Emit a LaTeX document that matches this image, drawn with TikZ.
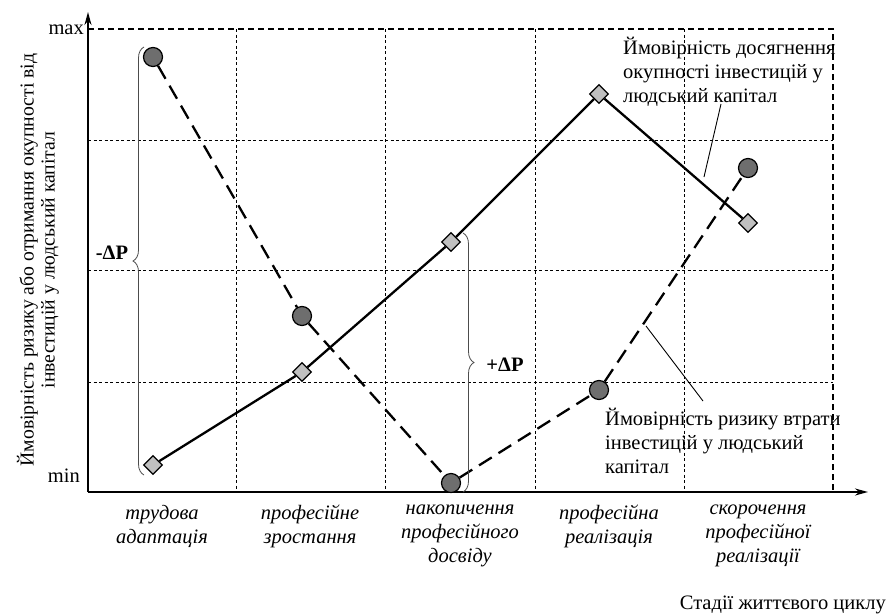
\documentclass[tikz,border=0pt]{standalone}
\usepackage{fontspec}
\setmainfont{Liberation Serif}
\usetikzlibrary{decorations.pathreplacing,arrows.meta,shapes.geometric}
\definecolor{dotdark}{RGB}{110,110,110}
\definecolor{dotlight}{RGB}{192,192,192}
\begin{document}
\begin{tikzpicture}[x=1pt,y=-1pt,
  gridline/.style={dash pattern=on 3pt off 2.5pt, line width=0.9pt},
  frameline/.style={dash pattern=on 6pt off 4pt, line width=1.1pt},
  axisline/.style={line width=1.8pt, -{Stealth[length=13pt,width=7pt]}},
  riskline/.style={dash pattern=on 15pt off 8pt, line width=2.3pt},
  gainline/.style={line width=2.3pt},
  riskpt/.style={circle, draw, fill=dotdark, minimum size=19pt, inner sep=0pt, line width=1.2pt},
  gainpt/.style={diamond, draw, fill=dotlight, minimum size=19pt, inner sep=0pt, line width=1.2pt},
  bracestyle/.style={decorate, decoration={brace, amplitude=11pt}, line width=0.8pt, draw=black!70},
  txt/.style={font=\fontsize{20.5}{24}\selectfont, inner sep=0pt},
  stage/.style={font=\fontsize{20.5}{24}\selectfont\itshape, align=center, anchor=north, inner sep=0pt},
  delta/.style={font=\fontsize{20.5}{24}\selectfont\bfseries, inner sep=0pt},
  note/.style={line width=0.9pt}
]
\useasboundingbox (0,0) rectangle (887,614);

% grid
\foreach \x in {236,385,535,684} \draw[gridline] (\x,29) -- (\x,492);
\foreach \y in {140,270,382} \draw[gridline] (88,\y) -- (833,\y);
\draw[frameline] (88,29) -- (833,29) -- (833,492);

% axes
\coordinate (O) at (88,492);
\coordinate (ytip) at (88,12);
\coordinate (xtip) at (868,492);
\draw[axisline] (O) -- (ytip);
\draw[axisline] (O) -- (xtip);

\node[txt, anchor=east] (maxlbl) at (84,30) {max};
\node[txt, anchor=east] (minlbl) at (80,476) {min};

% points
\node[riskpt] (c1) at (153,57) {};
\node[riskpt] (c2) at (302,316) {};
\node[riskpt] (c3) at (451,483) {};
\node[riskpt] (c4) at (599,390) {};
\node[riskpt] (c5) at (748,168) {};
\node[gainpt] (d1) at (153,465) {};
\node[gainpt] (d2) at (302,372) {};
\node[gainpt] (d3) at (451,242) {};
\node[gainpt] (d4) at (599,94) {};
\node[gainpt] (d5) at (748,223) {};

\draw[riskline] (c1) -- (c2);
\draw[riskline] (c2) -- (c3);
\draw[riskline] (c3) -- (c4);
\draw[riskline] (c4) -- (c5);
\draw[gainline] (d1) -- (d2);
\draw[gainline] (d2) -- (d3);
\draw[gainline] (d3) -- (d4);
\draw[gainline] (d4) -- (d5);

% braces
\coordinate (lb1) at (144,475);
\coordinate (lb2) at (144,47);
\draw[bracestyle] (lb1) -- (lb2);
\node[delta] (mdp) at (112,253) {-ΔP};
\coordinate (rb1) at (463,233);
\coordinate (rb2) at (463,492);
\draw[bracestyle] (rb1) -- (rb2);
\node[delta] (pdp) at (505,365) {+ΔP};

% annotations
\node[txt, align=left, anchor=north west] (gaintxt) at (623,37) {Ймовірність досягнення\\окупності інвестицій у\\людський капітал};
\coordinate (ga) at (704,177);
\coordinate (gb) at (721,104);
\draw[note] (ga) -- (gb);
\node[txt, align=left, anchor=north west] (risktxt) at (605,408) {Ймовірність ризику втрати\\інвестицій у людський\\капітал};
\coordinate (ra) at (646,326);
\coordinate (rb) at (703,401);
\draw[note] (ra) -- (rb);

% y axis label
\node[font=\fontsize{19.7}{21}\selectfont, align=center, rotate=90, inner sep=0pt] (ylbl) at (38,260) {Ймовірність ризику або отримання окупності від\\інвестицій у людський капітал};

% stages
\node[stage] (s1) at (162,505) {трудова\\адаптація};
\node[stage] (s2) at (310,505) {професійне\\зростання};
\node[stage] (s3) at (460,505) {накопичення\\професійного\\досвіду};
\node[stage] (s4) at (609,505) {професійна\\реалізація};
\node[stage] (s5) at (758,505) {скорочення\\професійної\\реалізації};

\node[txt, anchor=east] (xlbl) at (886,605) {Стадії життєвого циклу};
\end{tikzpicture}
\end{document}
